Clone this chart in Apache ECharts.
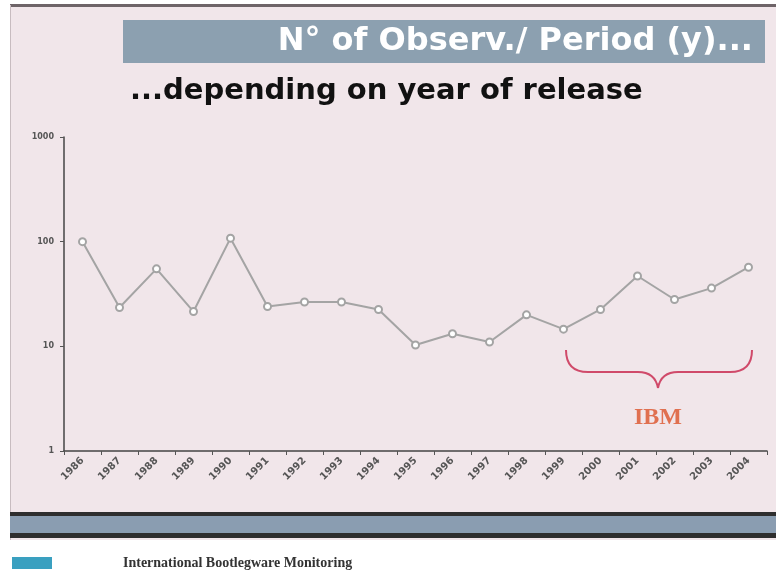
<!DOCTYPE html>
<html><head><meta charset="utf-8">
<script src="https://cdn.jsdelivr.net/npm/echarts@6/dist/echarts.min.js"></script>
<style>html,body{margin:0;padding:0;background:#fff}#c{width:778px;height:575px}</style>
</head><body><div id="c"></div>
<script>
var years = ['1986','1987','1988','1989','1990','1991','1992','1993','1994','1995','1996','1997','1998','1999','2000','2001','2002','2003','2004'];
var observations = [100,23.5,55,21.5,108,24,26.5,26.5,22.5,10.3,13.2,11,20,14.6,22.5,47,28,36,57];
var yTicks = [1,10,100,1000];
var titleText = 'N° of Observ./ Period (y)...';
var subtitleText = '...depending on year of release';
var braceLabel = 'IBM';
var footerText = 'International Bootlegware Monitoring';

var braceStroke = {stroke: '#d04a6a', lineWidth: 2, fill: null};
var chart = echarts.init(document.getElementById('c'), null, {renderer:'canvas'});
chart.setOption({
  backgroundColor: '#ffffff',
  animation: false,
  grid: {left: 64, right: 11, top: 137, bottom: 124},
  xAxis: {
    type: 'category', data: years, boundaryGap: true,
    axisLine: {lineStyle: {color: '#444', width: 1.5}},
    axisTick: {show: true, alignWithLabel: false, length: 4, lineStyle: {color: '#555'}},
    axisLabel: {rotate: 45, color: '#555', fontSize: 10, fontFamily: 'DejaVu Sans', fontWeight: 'bold', margin: 8}
  },
  yAxis: {
    type: 'log', logBase: 10, min: yTicks[0], max: yTicks[yTicks.length-1],
    axisLine: {show: true, lineStyle: {color: '#444', width: 1.5}},
    axisTick: {show: true, length: 4, lineStyle: {color: '#555'}},
    minorTick: {show: false},
    splitLine: {show: false},
    axisLabel: {color: '#555', fontSize: 8, fontFamily: 'DejaVu Sans', fontWeight: 'bold', margin: 10,
      formatter: function (v) { return String(Math.round(v)); }}
  },
  series: [{
    type: 'line', data: observations,
    symbol: 'emptyCircle', symbolSize: 7,
    lineStyle: {color: '#a4a4a4', width: 2},
    itemStyle: {color: '#a4a4a4', borderColor: '#8c8c8c', borderWidth: 1.5}
  }],
  graphic: [
    {type: 'rect', z: -10, shape: {x: 10, y: 5, width: 766, height: 535}, style: {fill: '#f1e6ea'}},
    {type: 'rect', z: -9, shape: {x: 10, y: 4, width: 766, height: 3}, style: {fill: '#6e6468'}},
    {type: 'rect', z: -9, shape: {x: 10, y: 5, width: 1, height: 535}, style: {fill: '#c8bcc0'}},
    {type: 'rect', z: -5, shape: {x: 123, y: 20, width: 642, height: 43}, style: {fill: '#8ca0b0'}},
    {type: 'text', z: 5, style: {x: 753, y: 42, text: titleText, fill: '#ffffff', font: 'bold 32px "DejaVu Sans"', textAlign: 'right', textVerticalAlign: 'middle'}},
    {type: 'text', z: 5, style: {x: 130, y: 91, text: subtitleText, fill: '#111111', font: 'bold 29px "DejaVu Sans"', textAlign: 'left', textVerticalAlign: 'middle'}},
    {type: 'bezierCurve', z: 5, shape: {x1: 566, y1: 350, x2: 588, y2: 372, cpx1: 566, cpy1: 372}, style: braceStroke},
    {type: 'line', z: 5, shape: {x1: 588, y1: 372, x2: 638, y2: 372}, style: braceStroke},
    {type: 'bezierCurve', z: 5, shape: {x1: 638, y1: 372, x2: 658, y2: 388, cpx1: 655, cpy1: 372}, style: braceStroke},
    {type: 'bezierCurve', z: 5, shape: {x1: 658, y1: 388, x2: 678, y2: 372, cpx1: 661, cpy1: 372}, style: braceStroke},
    {type: 'line', z: 5, shape: {x1: 678, y1: 372, x2: 730, y2: 372}, style: braceStroke},
    {type: 'bezierCurve', z: 5, shape: {x1: 730, y1: 372, x2: 752, y2: 350, cpx1: 752, cpy1: 372}, style: braceStroke},
    {type: 'text', z: 5, style: {x: 658, y: 418, text: braceLabel, fill: '#e07050', font: 'bold 24px "Liberation Serif", serif', textAlign: 'center', textVerticalAlign: 'middle'}},
    {type: 'rect', z: -5, shape: {x: 10, y: 512, width: 766, height: 26}, style: {fill: '#2e2e2e'}},
    {type: 'rect', z: -4, shape: {x: 10, y: 516, width: 766, height: 17}, style: {fill: '#8a9db1'}},
    {type: 'rect', z: -4, shape: {x: 0, y: 540, width: 778, height: 35}, style: {fill: '#ffffff'}},
    {type: 'rect', z: -3, shape: {x: 12, y: 557, width: 40, height: 12}, style: {fill: '#3aa0c0'}},
    {type: 'text', z: 5, style: {x: 123, y: 563, text: footerText, fill: '#333', font: 'bold 14px "Liberation Serif", serif', textAlign: 'left', textVerticalAlign: 'middle'}}
  ]
});
</script></body></html>
